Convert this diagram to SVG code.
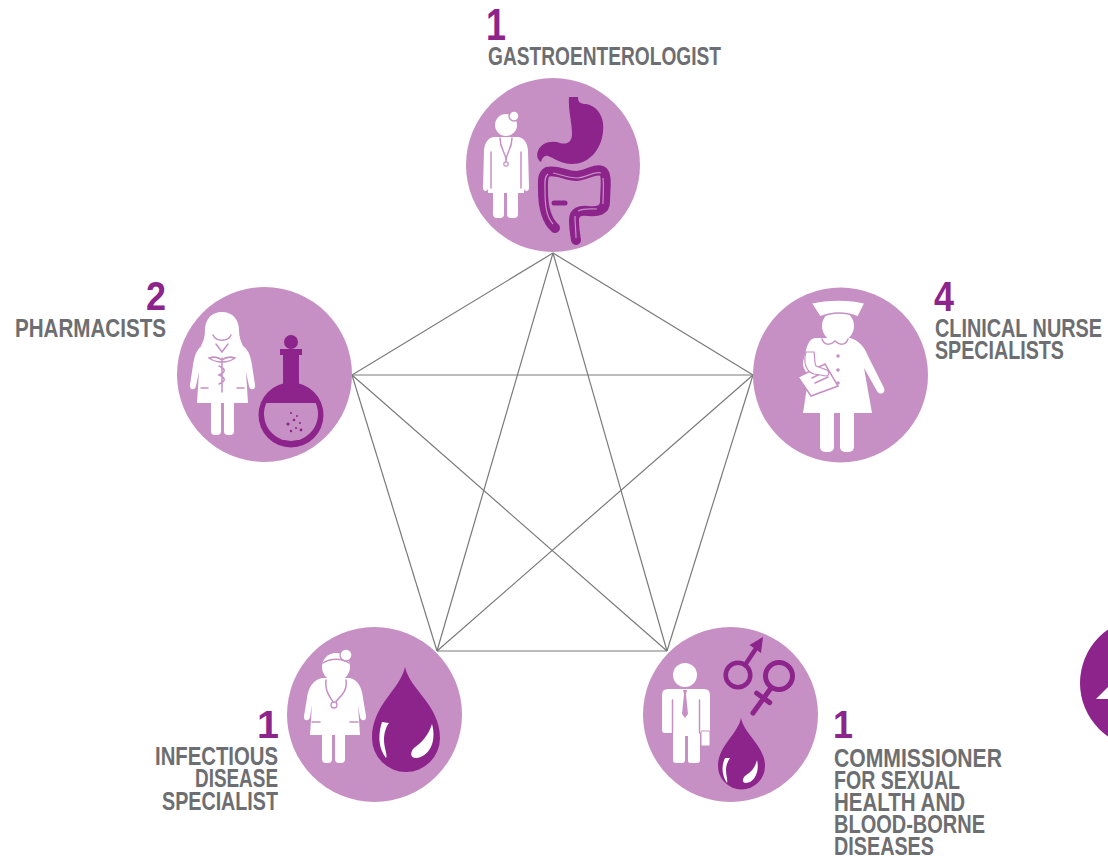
<svg xmlns="http://www.w3.org/2000/svg" width="1108" height="858" viewBox="0 0 1108 858">
<style>
.disc{fill:#c690c4}
.w{fill:#fff}
.p{fill:#8c248b}
.lav{fill:#c690c4}
.lavs{fill:none;stroke:#c690c4;stroke-width:1.5;stroke-linecap:round}
.pst{fill:none;stroke:#8c248b;stroke-linecap:round;stroke-linejoin:round}
.edge{stroke:#7a7a7a;stroke-width:1.2;fill:none}
.lbl{font-family:"Liberation Sans",Arial,sans-serif;font-weight:bold;fill:#6d6e71;font-size:26px}
.num{font-family:"Liberation Sans",Arial,sans-serif;font-weight:bold;fill:#8c248b}
</style>
<rect width="1108" height="858" fill="#fff"/>

<!-- links between every pair of roles -->
<g id="connectors" class="edge">
  <line x1="553" y1="253" x2="352" y2="375"/>
  <line x1="553" y1="253" x2="753" y2="375"/>
  <line x1="553" y1="253" x2="437" y2="651"/>
  <line x1="553" y1="253" x2="667" y2="651"/>
  <line x1="352" y1="375" x2="753" y2="375"/>
  <line x1="352" y1="375" x2="437" y2="651"/>
  <line x1="352" y1="375" x2="667" y2="651"/>
  <line x1="753" y1="375" x2="437" y2="651"/>
  <line x1="753" y1="375" x2="667" y2="651"/>
  <line x1="437" y1="651" x2="667" y2="651"/>
</g>

<!-- gastroenterologist -->
<g id="node-gastro">
  <circle class="disc" cx="553" cy="165" r="87"/>
  <circle class="w" cx="506" cy="125" r="11"/>
  <circle cx="514" cy="116" r="5" fill="#fff" stroke="#c690c4" stroke-width="1.5"/>
  <path class="w" d="M494,137 L518,137 C524,138 527,142 528,150 L529,188 C529,192 524,192 524,188 L524,193 L488,193 L488,188 C488,192 483,192 483,188 L484,150 C485,142 488,138 494,137 Z"/>
  <path class="lavs" d="M491,152 L491,188 M521,152 L521,188 M500,138 C500,150 506,152 506,161 M512,138 C512,150 506,152 506,161"/>
  <circle cx="506" cy="164" r="2.2" fill="none" stroke="#c690c4" stroke-width="1.2"/>
  <rect class="w" x="493" y="190" width="11" height="28" rx="4"/>
  <rect class="w" x="507" y="190" width="11" height="28" rx="4"/>
  <path class="p" d="M569,97 L578,97 C578,102 580,104 586,104 C598,106 605,118 603,132 C601,151 588,164 572,164 C561,164 554,158 548,156 C544,155 542,159 541,162 C538,160 536,156 538,151 C541,143 551,140 560,143 C567,145 572,142 572,134 C572,122 568,110 569,97 Z"/>
  <path class="pst" stroke-width="10" d="M555,228 C546,220 543,205 543,190 C543,182 542,175 547,172 C556,169 566,176 576,176 C586,176 594,168 602,171 C608,174 605,190 605,202 C605,210 598,212 588,211 C580,210 574,212 574,220 C574,228 575,234 576,240"/>
  <path fill="none" stroke="#c690c4" stroke-width="1.2" d="M553,224 C546,216 545,205 545,190 C545,183 544,177 548,174 M553,173 C562,175 568,178 578,178 C588,177 594,171 601,173 M603,178 C604,188 603,196 603,204 M597,209 C590,209 584,208 578,211 M575,216 C575,225 576,231 576,238"/>
  <path class="pst" stroke-width="5" d="M554,203 L565,203"/>
  <text class="num" x="486" y="40" font-size="44" textLength="20" lengthAdjust="spacingAndGlyphs">1</text>
  <text class="lbl" x="488" y="65" textLength="233" lengthAdjust="spacingAndGlyphs">GASTROENTEROLOGIST</text>
</g>

<!-- pharmacists -->
<g id="node-pharmacists">
  <circle class="disc" cx="264.5" cy="374.5" r="87.5"/>
  <path class="w" d="M222,312 C211,312 205,320 205,330 C205,337 203,342 201,346 L243,346 C241,342 239,337 239,330 C239,320 233,312 222,312 Z"/>
  <path class="lavs" d="M213,335 C216,342 228,342 231,335"/>
  <path class="w" d="M208,343 L236,343 C246,345 250,352 252,365 L255,385 C256,390 250,391 249,386 L246,372 L248,403 L197,403 L199,372 L196,386 C195,391 189,390 190,385 L193,365 C195,352 199,345 208,343 Z"/>
  <path class="lavs" d="M216,344 L222,352 L228,344 M222,358 L222,392 M222,360 C217,356 212,357 209,358 C213,361 218,362 222,362 M222,360 C227,356 232,357 235,358 C231,361 226,362 222,362 M219,366 C226,369 226,372 219,375 C226,378 226,381 219,384 M201,388 L208,388 M237,388 L244,388"/>
  <rect class="w" x="211" y="400" width="10" height="35" rx="4"/>
  <rect class="w" x="224" y="400" width="10" height="35" rx="4"/>
  <circle class="p" cx="291" cy="342" r="7"/>
  <rect class="p" x="280" y="349" width="22" height="6"/>
  <rect class="p" x="283" y="352" width="16" height="36"/>
  <circle class="p" cx="291" cy="415" r="32.5"/>
  <path class="lav" d="M266.3,403 L315.7,403 A27,27 0 1 1 266.3,403 Z"/>
  <g class="p">
    <circle cx="291" cy="413" r="1"/><circle cx="297" cy="416" r="1"/><circle cx="294" cy="420" r="1.3"/>
    <circle cx="300" cy="423" r="1"/><circle cx="288" cy="424" r="1.6"/><circle cx="296" cy="428" r="1"/>
    <circle cx="291" cy="431" r="1.2"/><circle cx="301" cy="430" r="1.4"/>
  </g>
  <text class="num" x="166" y="310" font-size="40" text-anchor="end" textLength="20" lengthAdjust="spacingAndGlyphs">2</text>
  <text class="lbl" x="166" y="337" font-size="27" text-anchor="end" textLength="151" lengthAdjust="spacingAndGlyphs">PHARMACISTS</text>
</g>

<!-- clinical nurse specialists -->
<g id="node-nurses">
  <circle class="disc" cx="840.5" cy="375" r="87.5"/>
  <circle class="w" cx="838" cy="326" r="16"/>
  <path class="w" stroke="#c690c4" stroke-width="1.5" d="M811,303 C828,299 850,299 865,303 L858,317 C846,312 832,312 820,317 Z"/>
  <path class="w" d="M815,338 L850,338 C858,340 864,346 868,356 L884,388 C886,393 880,396 877,391 L864,368 L872,413 L803,413 L809,374 C805,372 803,368 803,362 L806,350 C808,343 810,339 815,338 Z"/>
  <path class="lavs" d="M822,339 C824,345 830,346 835,341 C840,346 846,345 848,339"/>
  <g class="lav"><circle cx="838" cy="356" r="1.8"/><circle cx="838" cy="370" r="1.8"/><circle cx="838" cy="383" r="1.8"/></g>
  <path class="w" stroke="#c690c4" stroke-width="1.5" d="M798,377 L825,364 L838,386 L811,396 Z"/>
  <path class="lavs" d="M812,378 L824,372 M815,383 L828,377"/>
  <path class="w" stroke="#c690c4" stroke-width="1.2" d="M806,352 C803,362 806,372 814,374 L826,376 C829,376 830,372 827,370 L816,366 C814,362 815,356 814,352 Z"/>
  <rect class="w" x="820" y="408" width="14" height="44" rx="5"/>
  <rect class="w" x="840" y="408" width="14" height="44" rx="5"/>
  <text class="num" x="934" y="311" font-size="43" textLength="20" lengthAdjust="spacingAndGlyphs">4</text>
  <text class="lbl" x="935" y="337" textLength="167" lengthAdjust="spacingAndGlyphs">CLINICAL NURSE</text>
  <text class="lbl" x="935" y="359" textLength="129" lengthAdjust="spacingAndGlyphs">SPECIALISTS</text>
</g>

<!-- infectious disease specialist -->
<g id="node-infectious">
  <circle class="disc" cx="374.5" cy="714.5" r="87.5"/>
  <circle class="w" cx="336" cy="667" r="14"/>
  <circle cx="346" cy="655" r="6" fill="#fff" stroke="#c690c4" stroke-width="1.3"/>
  <path class="lavs" d="M323,663 C330,658 342,658 349,663"/>
  <path class="w" d="M322,678 L350,678 C358,680 362,688 363,698 L366,716 C367,721 361,722 360,717 L358,705 L360,735 L310,735 L312,705 L310,717 C309,722 303,721 304,716 L307,698 C308,688 313,680 322,678 Z"/>
  <path class="lavs" d="M326,680 C324,694 333,700 333,702 M346,680 C348,694 337,698 336,702 M312,722 L320,722 M350,722 L358,722"/>
  <circle cx="334" cy="705" r="3" fill="#fff" stroke="#c690c4" stroke-width="1.3"/>
  <rect class="w" x="322" y="730" width="10" height="33" rx="4"/>
  <rect class="w" x="335" y="730" width="10" height="33" rx="4"/>
  <path class="p" d="M405,667 C410,690 440,705 440,738 A34,34 0 0 1 372,738 C372,705 400,690 405,667 Z"/>
  <path class="w" d="M382,722 C378,734 378,748 386,758 C388,756 384,748 384,740 C384,733 386,727 389,723 Z"/>
  <path class="w" d="M432,724 C437,742 429,757 416,758 C410,758 410,752 414,748 C422,742 428,736 432,724 Z"/>
  <text class="num" x="257" y="738" font-size="39" textLength="22" lengthAdjust="spacingAndGlyphs">1</text>
  <text class="lbl" x="278" y="765" font-size="27" text-anchor="end" textLength="123" lengthAdjust="spacingAndGlyphs">INFECTIOUS</text>
  <text class="lbl" x="278" y="787" font-size="27" text-anchor="end" textLength="83" lengthAdjust="spacingAndGlyphs">DISEASE</text>
  <text class="lbl" x="278" y="810" font-size="27" text-anchor="end" textLength="116" lengthAdjust="spacingAndGlyphs">SPECIALIST</text>
</g>

<!-- commissioner for sexual health and blood-borne diseases -->
<g id="node-commissioner">
  <circle class="disc" cx="730.5" cy="714.5" r="87.5"/>
  <circle class="w" cx="685" cy="675" r="12"/>
  <path class="w" d="M668,689 L704,689 Q710,689 710,695 L710,730 Q710,733 707,733 L700,733 L700,760 Q700,763 697,763 L690,763 Q688,763 688,760 L688,736 L685,736 L685,760 Q685,763 682,763 L676,763 Q673,763 673,760 L673,733 L665,733 Q662,733 662,730 L662,695 Q662,689 668,689 Z"/>
  <path class="lavs" d="M672.5,700 L672.5,733 M699.5,700 L699.5,733"/>
  <path class="lav" d="M683,690 L687,690 L686,694 L688,714 L685,718 L682,714 L684,694 Z"/>
  <rect x="701" y="731" width="9" height="15" rx="1" fill="#fff" stroke="#c690c4" stroke-width="1"/>
  <circle cx="738" cy="675" r="12.3" class="pst" stroke-width="4.5"/>
  <path class="pst" stroke-width="4.5" d="M745,665 L755,650"/>
  <polygon class="p" points="763,637 761,653 749.5,645"/>
  <circle cx="779" cy="676" r="13.5" class="pst" stroke-width="5"/>
  <path class="pst" stroke-width="5" stroke-linecap="butt" d="M771,688 L753,713 M769.7,702.6 L756.7,693.2"/>
  <path class="p" d="M741,718 C744,734 765,746 765,766 A23.5,23.5 0 0 1 718,766 C718,746 738,734 741,718 Z"/>
  <path class="w" d="M725,758 C721,766 722,776 727,783 C728,781 726,775 726,770 C726,765 728,761 730,758 Z"/>
  <path class="w" d="M757,760 C760,772 754,783 746,783 C742,783 742,779 745,776 C751,772 755,768 757,760 Z"/>
  <text class="num" x="833" y="738" font-size="39" textLength="20" lengthAdjust="spacingAndGlyphs">1</text>
  <text class="lbl" x="834" y="767" textLength="168" lengthAdjust="spacingAndGlyphs">COMMISSIONER</text>
  <text class="lbl" x="834" y="789" textLength="126" lengthAdjust="spacingAndGlyphs">FOR SEXUAL</text>
  <text class="lbl" x="834" y="811" textLength="131" lengthAdjust="spacingAndGlyphs">HEALTH AND</text>
  <text class="lbl" x="834" y="833" textLength="151" lengthAdjust="spacingAndGlyphs">BLOOD-BORNE</text>
  <text class="lbl" x="834" y="855" textLength="100" lengthAdjust="spacingAndGlyphs">DISEASES</text>
</g>

<!-- disc cut off at the right edge -->
<g id="node-edge">
  <circle class="p" cx="1145" cy="683" r="65"/>
  <polygon class="w" points="1096,699 1108,687 1108,699"/>
</g>
</svg>
